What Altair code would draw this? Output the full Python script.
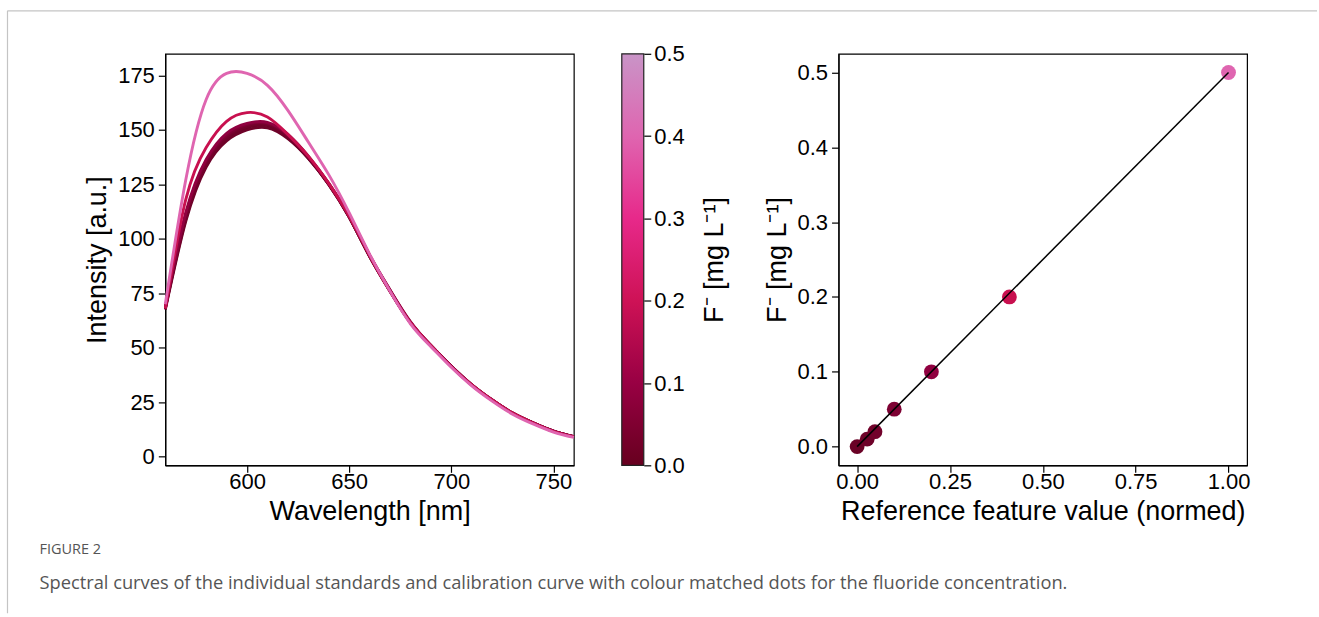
import altair as alt
import pandas as pd

# ---------------- data ----------------
wavelength = [560, 570, 580, 590, 600, 610, 620, 630, 640, 650, 660,
              670, 680, 690, 700, 710, 720, 730, 740, 750, 760]

intensity_000 = [68, 110, 134, 146, 151, 152, 146.5, 137, 125, 110, 92,
                 76, 61.5, 51, 41.5, 33, 26, 20, 15.5, 11.7, 9.2]
intensity_001 = [67.5, 108, 133, 145, 150, 151, 146, 137, 125, 110, 92,
                 76, 61.5, 51, 41.5, 33, 26, 20, 15.5, 11.7, 9.2]
intensity_002 = [68, 109, 134, 146.5, 151.5, 152.5, 147, 137.5, 125, 110, 92,
                 76, 61.5, 51, 41.5, 33, 26, 20, 15.5, 11.7, 9.2]
intensity_005 = [68.5, 111, 135.5, 147.5, 152.5, 153, 147.5, 137.5, 125.5, 110.5, 92.5,
                 76.5, 61.5, 51, 41.5, 33, 26, 20, 15.5, 11.7, 9.2]
intensity_010 = [68.5, 112, 136.5, 148.5, 153, 153.5, 148, 138, 125.5, 110.5, 92.5,
                 76.5, 62, 51, 41.5, 33, 26, 20, 15.5, 11.7, 9.2]
intensity_020 = [68, 118, 142, 154, 158, 156, 148, 138, 125.5, 110.5, 92.5,
                 76, 61.5, 51, 41.3, 33, 26, 20, 15.5, 11.6, 9.1]
intensity_050 = [70, 127, 164, 176, 176, 170.5, 159, 144.5, 129.5, 112, 93,
                 76, 61, 50.5, 41, 32.5, 25.5, 19.5, 15, 11.3, 8.8]

standard_conc = [0.0, 0.01, 0.02, 0.05, 0.1, 0.2, 0.5]
spectra = [intensity_000, intensity_001, intensity_002, intensity_005,
           intensity_010, intensity_020, intensity_050]

ref_feature = [0.0, 0.027, 0.048, 0.10, 0.20, 0.41, 1.0]
ref_conc = [0.0, 0.01, 0.02, 0.05, 0.10, 0.20, 0.50]
fit_x = [0.0, 1.0]
fit_y = [0.0, 0.5]

x_ticks_left = [600, 650, 700, 750]
y_ticks_left = [0, 25, 50, 75, 100, 125, 150, 175]
x_ticks_right = [0.0, 0.25, 0.5, 0.75, 1.0]
y_ticks_right = [0.0, 0.1, 0.2, 0.3, 0.4, 0.5]
cbar_ticks = [0.0, 0.1, 0.2, 0.3, 0.4, 0.5]

cbar_colors = ["#67001f", "#980043", "#ce1256", "#e7298a", "#df65b0", "#c994c7"]
mark_color_domain = [0.0, 0.1, 0.2, 0.5]
mark_color_range = ["#6a0226", "#900040", "#c8104f", "#df65b0"]

caption_head = ["FIGURE 2"]
caption_body = ["Spectral curves of the individual standards and calibration curve "
                "with colour matched dots for the fluoride concentration."]

# ---------------- tables ----------------
rows = []
for c, series in zip(standard_conc, spectra):
    for w, v in zip(wavelength, series):
        rows.append({"wl": w, "intensity": v, "conc": c})
spec_df = pd.DataFrame(rows)
cal_df = pd.DataFrame({"ref": ref_feature, "conc": ref_conc})
fit_df = pd.DataFrame({"x": fit_x, "y": fit_y})
cbar_df = pd.DataFrame({"lo": [cbar_ticks[0]], "hi": [cbar_ticks[-1]]})
one = pd.DataFrame({"a": [0]})

FONT = "Liberation Sans"
mark_scale = alt.Scale(domain=mark_color_domain, range=mark_color_range, interpolate="rgb")

# ---------------- left panel ----------------
lines = alt.Chart(spec_df).mark_line(strokeWidth=2.9, interpolate="natural").encode(
    x=alt.X("wl:Q", scale=alt.Scale(domain=[560, 760], nice=False, zero=False),
            axis=alt.Axis(values=x_ticks_left, title="Wavelength [nm]")),
    y=alt.Y("intensity:Q", scale=alt.Scale(domain=[-4, 185], nice=False, zero=False),
            axis=alt.Axis(values=y_ticks_left, title="Intensity [a.u.]", orient="left")),
    color=alt.Color("conc:Q", scale=mark_scale, legend=None),
    detail="conc:N",
)

gradient = alt.Gradient(
    gradient="linear",
    stops=[alt.GradientStop(color=col, offset=i / (len(cbar_colors) - 1))
           for i, col in enumerate(cbar_colors)],
    x1=0, x2=0, y1=1, y2=0,
)
cbar = alt.Chart(cbar_df).mark_rect(fill=gradient, stroke="#222222", strokeWidth=1.2).encode(
    x=alt.value(457), x2=alt.value(479),
    y=alt.Y("lo:Q", scale=alt.Scale(domain=[0, 0.5], nice=False, zero=False),
            axis=alt.Axis(orient="right", offset=70, values=cbar_ticks, format=".1f",
                          title="F⁻ [mg L⁻¹]", domain=False, titleAngle=270,
                          titleBaseline="top", titlePadding=17, labelPadding=3)),
    y2="hi:Q",
)

frame_top = alt.Chart(one).mark_rule(color="#c4c4c4", strokeWidth=1.2).encode(
    x=alt.value(-158), x2=alt.value(1153), y=alt.value(-43))
frame_left = alt.Chart(one).mark_rule(color="#c4c4c4", strokeWidth=1.2).encode(
    x=alt.value(-158), y=alt.value(-43), y2=alt.value(560))

cap1 = alt.Chart(one).mark_text(align="left", baseline="middle", font="Open Sans",
                                fontSize=14.5, color="#555555").encode(
    x=alt.value(-126), y=alt.value(497), text=alt.value(caption_head[0]))
cap2 = alt.Chart(one).mark_text(align="left", baseline="middle", font="Open Sans",
                                fontSize=18.3, color="#555555").encode(
    x=alt.value(-126), y=alt.value(531), text=alt.value(caption_body[0]))

left = alt.layer(lines, cbar, frame_top, frame_left, cap1, cap2).resolve_scale(
    y="independent").properties(width=409, height=412)

# ---------------- right panel ----------------
pts = alt.Chart(cal_df).mark_circle(size=220, opacity=1).encode(
    x=alt.X("ref:Q", scale=alt.Scale(domain=[-0.05, 1.05], nice=False, zero=False),
            axis=alt.Axis(values=x_ticks_right, format=".2f",
                          title="Reference feature value (normed)")),
    y=alt.Y("conc:Q", scale=alt.Scale(domain=[-0.025, 0.525], nice=False, zero=False),
            axis=alt.Axis(values=y_ticks_right, format=".1f", title="F⁻ [mg L⁻¹]")),
    color=alt.Color("conc:Q", scale=mark_scale, legend=None),
)
fit = alt.Chart(fit_df).mark_line(color="black", strokeWidth=1.5).encode(
    x="x:Q", y="y:Q")
right = alt.layer(pts, fit).properties(width=409, height=412)

chart = alt.hconcat(left, right, spacing=265, bounds="flush").properties(
    padding={"left": 5.5, "top": 8.5, "right": 0, "bottom": 0},
    background="white",
).configure_view(
    stroke="black", strokeWidth=1.2
).configure_axis(
    labelFont=FONT, labelFontSize=22, labelColor="black",
    titleFont=FONT, titleFontSize=27, titleFontWeight="normal", titleColor="black",
    tickColor="black", tickWidth=1.2, tickSize=7, domainColor="black", domainWidth=1.2,
    grid=False, labelPadding=4, titlePadding=6,
).configure_axisBottom(
    labelPadding=-1
)

chart.save("out.html", embed_options={"renderer": "svg", "actions": False})
